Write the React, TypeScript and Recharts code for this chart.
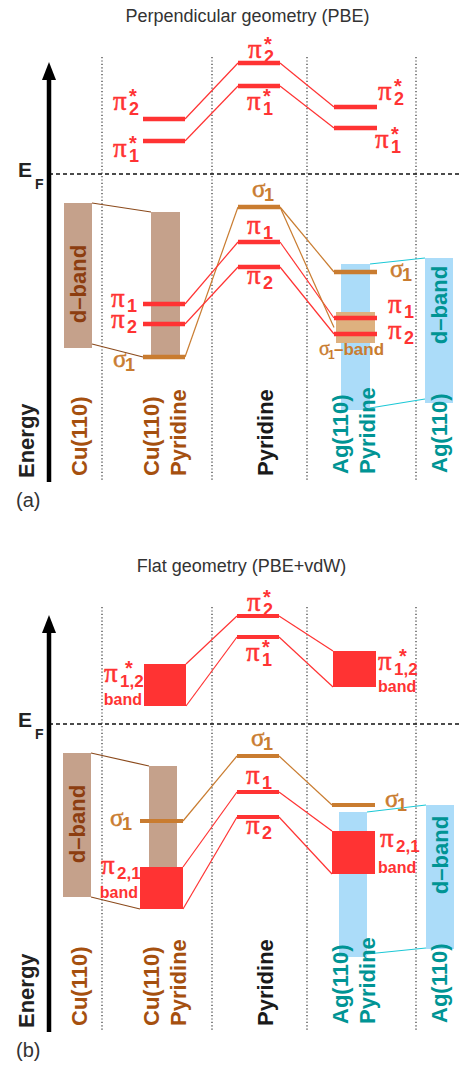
import React from 'react';
import { ComposedChart, XAxis, YAxis, ReferenceArea, ReferenceLine, ReferenceDot } from 'recharts';

// ---------------- data (energies in arbitrary units, E_F = 0) ----------------
// order of molecular levels: π2*, π1*, σ1, π1, π2
const levelNames = ['π2*', 'π1*', 'σ1', 'π1', 'π2'];

// (a) Perpendicular geometry (PBE)
const perpPyridine = [11.1, 8.8, -3.3, -6.8, -9.3];
const perpCuPyridine = [5.5, 3.3, -18.3, -13.0, -15.0];
const perpAgPyridine = [6.7, 4.6, -9.8, -14.4, -16.0];
const perpCuDBand = [-2.9, -17.4];
const perpCuPyDBand = [-3.8, -18.1];
const perpAgPyDBand = [-9.0, -23.6];
const perpAgDBand = [-8.4, -22.9];
const perpAgSigmaBand = [-13.8, -16.9];

// (b) Flat geometry (PBE+vdW)
const flatPyridine = [10.8, 8.7, -3.2, -6.8, -9.3];
const flatCuPiStarBand = [6.0, 1.8];
const flatAgPiStarBand = [7.3, 3.7];
const flatCuSigma1 = [-9.7];
const flatAgSigma1 = [-8.1];
const flatCuPiBand = [-14.3, -18.5];
const flatAgPiBand = [-10.7, -15.0];
const flatCuDBand = [-2.9, -17.3];
const flatCuPyDBand = [-4.2, -18.1];
const flatAgPyDBand = [-8.8, -23.3];
const flatAgDBand = [-8.1, -22.5];

const columnLabels = [['Cu(110)'], ['Cu(110)', 'Pyridine'], ['Pyridine'], ['Ag(110)', 'Pyridine'], ['Ag(110)']];
const panelTitles = ['Perpendicular geometry (PBE)', 'Flat geometry (PBE+vdW)'];
const panelTags = ['(a)', '(b)'];

// ---------------- layout / style ----------------
const W = 461;
const E_DOMAIN: [number, number] = [-30.8, 17.4];
const colX = [79, 165, 265, 354, 439];
const dividers = [102, 212, 307, 416];
const DIV_TOP = 11.7;
const AXIS_X = 49;

const SANS = '"Liberation Sans", Arial, Helvetica, sans-serif';
const SERIF = '"Liberation Serif", "Times New Roman", serif';
const RED = '#ff3333';
const SIGMA = '#c97c30';
const CU_BAND = '#c5a18b';
const SIGMA_BAND = '#deb17f';
const AG_BAND = '#abdcf9';
const CU_TEXT = '#a5500f';
const CU_DARK = '#8c3d10';
const AG_TEXT = '#009494';
const CYAN = '#1cc8d6';
const BROWN_LINE = '#8b4a1c';
const columnColors = [CU_TEXT, CU_TEXT, '#1a1a1a', AG_TEXT, AG_TEXT];
const columnGap = [6, 6, 6, 8, 9];

const seg = (key: string, x1: number, y1: number, x2: number, y2: number, stroke: string, w: number, dash?: string) => (
  <ReferenceLine key={key} segment={[{ x: x1, y: y1 }, { x: x2, y: y2 }]} stroke={stroke} strokeWidth={w}
    strokeDasharray={dash} ifOverflow="visible" />
);
const rect = (key: string, x1: number, x2: number, band: number[], fill: string) => (
  <ReferenceArea key={key} x1={x1} x2={x2} y1={band[1]} y2={band[0]} fill={fill} fillOpacity={1}
    stroke="none" ifOverflow="visible" />
);
const dot = (key: string, x: number, y: number, shape: any) => (
  <ReferenceDot key={key} x={x} y={y} r={0} shape={shape} ifOverflow="visible" />
);

type GreekOpts = {
  sym: 'π' | 'σ'; sub: string; star?: boolean; color: string; dx: number; dy: number;
  subSize?: number; starDx?: number; band?: { dx: number; dy: number; anchor: 'start' | 'end' };
};
const greek = (o: GreekOpts) => (p: any) => {
  const x = p.cx + o.dx;
  const y = p.cy + o.dy;
  const isPi = o.sym === 'π';
  const subX = x + (isPi ? 16 : 12);
  return (
    <g>
      <text x={x} y={y} fontFamily={SERIF} fontSize={isPi ? 27 : 25} fill={o.color} stroke={o.color}
        strokeWidth={0.5}>{o.sym}</text>
      <text x={subX} y={y + (isPi ? 5 : 4)} fontFamily={SANS} fontWeight={700} fontSize={o.subSize ?? 18} fill={o.color}>{o.sub}</text>
      {o.star && (
        <text x={subX + (o.starDx ?? 0)} y={y - 7} fontFamily={SANS} fontWeight={700} fontSize={20} fill={o.color}>*</text>
      )}
      {o.band && (
        <text x={p.cx + o.band.dx} y={p.cy + o.band.dy} textAnchor={o.band.anchor} fontFamily={SANS}
          fontWeight={700} fontSize={16} fill={o.color}>band</text>
      )}
    </g>
  );
};

const vText = (text: string, color: string, dy: number, anchor: 'start' | 'middle', size = 22) => (p: any) => {
  const x = p.cx;
  const y = p.cy + dy;
  return (
    <text x={x} y={y} transform={`rotate(-90 ${x} ${y})`} textAnchor={anchor} dominantBaseline="central"
      fontFamily={SANS} fontWeight={700} fontSize={size} fill={color}>{text}</text>
  );
};

const arrowHead = (p: any) => (
  <polygon points={`${p.cx},${p.cy} ${p.cx - 7},${p.cy + 18} ${p.cx + 7},${p.cy + 18}`} fill="#000" />
);

const efLabel = (p: any) => (
  <g fontFamily={SANS} fontWeight={700} fill="#222">
    <text x={p.cx - 31} y={p.cy + 3} fontSize={21}>E</text>
    <text x={p.cx - 14} y={p.cy + 15} fontSize={14}>F</text>
  </g>
);

const titleShape = (t: string, dx: number) => (p: any) => (
  <text x={p.cx + dx} y={p.cy + 22} textAnchor="middle" fontFamily={SANS} fontSize={18} fill="#333">{t}</text>
);
const tagShape = (t: string) => (p: any) => (
  <text x={p.cx} y={p.cy + 25} fontFamily={SANS} fontSize={20} fill="#333">{t}</text>
);

const ColumnTick = (props: any) => {
  const { x, y, index } = props;
  const lines = columnLabels[index] || [];
  const spacing = 27.5;
  return (
    <g>
      {lines.map((t, i) => {
        const lx = x + (i - (lines.length - 1) / 2) * spacing;
        const ly = y - columnGap[index];
        return (
          <text key={i} x={lx} y={ly} transform={`rotate(-90 ${lx} ${ly})`} textAnchor="start" dominantBaseline="central"
            fontFamily={SANS} fontWeight={700} fontSize={22} fill={columnColors[index]}>{t}</text>
        );
      })}
    </g>
  );
};

const commonFrame = (tag: number, arrowTip: number) => [
  ...dividers.map((x) => seg(`div${x}`, x, DIV_TOP, x, E_DOMAIN[0], '#333', 1.2, '1.2 2.2')),
  seg('ef', AXIS_X, 0, W, 0, '#111', 1.3, '4 3'),
  seg('shaft', AXIS_X, E_DOMAIN[0], AXIS_X, arrowTip - 1.5, '#000', 4.5),
  dot('arrowhead', AXIS_X, arrowTip, arrowHead),
  dot('eflabel', AXIS_X, 0, efLabel),
  dot('energy', 26.5, E_DOMAIN[0], vText('Energy', '#222', -4, 'start')),
  dot('title', W / 2, E_DOMAIN[1], titleShape(panelTitles[tag], tag === 0 ? 17 : 11)),
  dot('tag', 16, E_DOMAIN[0], tagShape(panelTags[tag])),
];

const Panel = ({ height, axisHeight, children }: { height: number; axisHeight: number; children: any }) => (
  <ComposedChart width={W} height={height} data={[]} margin={{ top: 0, right: 0, bottom: 0, left: 0 }}>
    <XAxis type="number" dataKey="x" domain={[0, W]} ticks={colX} interval={0} allowDataOverflow height={axisHeight}
      axisLine={false} tickLine={false} tickSize={0} tickMargin={0} tick={<ColumnTick />} />
    <YAxis type="number" domain={E_DOMAIN} allowDataOverflow hide />
    {children}
  </ComposedChart>
);

function PerpPanel() {
  const cuL = [143, 185];
  const pyL = [238, 280];
  const agL = [334, 377];
  const sigMid = (perpAgSigmaBand[0] + perpAgSigmaBand[1]) / 2;
  const els: any[] = [
    ...commonFrame(0, 11.2),
    rect('cuD', 64, 92, perpCuDBand, CU_BAND),
    rect('cuPyD', 151, 180, perpCuPyDBand, CU_BAND),
    rect('agPyD', 341, 370, perpAgPyDBand, AG_BAND),
    rect('agD', 425, 453, perpAgDBand, AG_BAND),
    rect('sigBand', 336, 375, perpAgSigmaBand, SIGMA_BAND),
    seg('cuTop', 92, perpCuDBand[0], 151, perpCuPyDBand[0], BROWN_LINE, 1.2),
    seg('cuBot', 92, perpCuDBand[1] + 0.4, cuL[0], perpCuPyridine[2], BROWN_LINE, 1.2),
    seg('agTop', 370, perpAgPyDBand[0], 425, perpAgDBand[0], CYAN, 1.2),
    seg('agBot', 370, perpAgPyDBand[1] + 0.2, 425, perpAgDBand[1] + 0.4, CYAN, 1.2),
  ];
  levelNames.forEach((_, i) => {
    const c = i === 2 ? SIGMA : RED;
    els.push(seg(`cl${i}`, cuL[1], perpCuPyridine[i], pyL[0], perpPyridine[i], c, 1.2));
    els.push(seg(`cr${i}`, pyL[1], perpPyridine[i], agL[0], perpAgPyridine[i], c, 1.2));
  });
  els.push(seg('sigToBand', pyL[1], perpPyridine[2], agL[0], sigMid, SIGMA, 1.2));
  levelNames.forEach((_, i) => {
    const c = i === 2 ? SIGMA : RED;
    els.push(seg(`lc${i}`, cuL[0], perpCuPyridine[i], cuL[1], perpCuPyridine[i], c, 4.5));
    els.push(seg(`lp${i}`, pyL[0], perpPyridine[i], pyL[1], perpPyridine[i], c, 4.5));
    els.push(seg(`la${i}`, agL[0], perpAgPyridine[i], agL[1], perpAgPyridine[i], c, 4.5));
  });
  // labels
  els.push(
    dot('tCu2s', cuL[0], perpCuPyridine[0], greek({ sym: 'π', sub: '2', star: true, color: RED, dx: -30, dy: -9 })),
    dot('tCu1s', cuL[0], perpCuPyridine[1], greek({ sym: 'π', sub: '1', star: true, color: RED, dx: -30, dy: 16 })),
    dot('tCuS', cuL[0], perpCuPyridine[2], greek({ sym: 'σ', sub: '1', color: SIGMA, dx: -30, dy: 10 })),
    dot('tCu1', cuL[0], perpCuPyridine[3], greek({ sym: 'π', sub: '1', color: RED, dx: -32, dy: 3 })),
    dot('tCu2', cuL[0], perpCuPyridine[4], greek({ sym: 'π', sub: '2', color: RED, dx: -32, dy: 4 })),
    dot('tPy2s', pyL[0], perpPyridine[0], greek({ sym: 'π', sub: '2', star: true, color: RED, dx: 10, dy: -5 })),
    dot('tPy1s', pyL[0], perpPyridine[1], greek({ sym: 'π', sub: '1', star: true, color: RED, dx: 9, dy: 24 })),
    dot('tPyS', pyL[0], perpPyridine[2], greek({ sym: 'σ', sub: '1', color: SIGMA, dx: 14, dy: -10 })),
    dot('tPy1', pyL[0], perpPyridine[3], greek({ sym: 'π', sub: '1', color: RED, dx: 9, dy: -8 })),
    dot('tPy2', pyL[0], perpPyridine[4], greek({ sym: 'π', sub: '2', color: RED, dx: 9, dy: 17 })),
    dot('tAg2s', agL[1], perpAgPyridine[0], greek({ sym: 'π', sub: '2', star: true, color: RED, dx: 1, dy: -7 })),
    dot('tAg1s', agL[1], perpAgPyridine[1], greek({ sym: 'π', sub: '1', star: true, color: RED, dx: -2, dy: 20 })),
    dot('tAgS', agL[1], perpAgPyridine[2], greek({ sym: 'σ', sub: '1', color: SIGMA, dx: 13, dy: 5 })),
    dot('tAg1', agL[1], perpAgPyridine[3], greek({ sym: 'π', sub: '1', color: RED, dx: 11, dy: -5 })),
    dot('tAg2', agL[1], perpAgPyridine[4], greek({ sym: 'π', sub: '2', color: RED, dx: 11, dy: 5 })),
    dot('tSigBand', 336, perpAgSigmaBand[1], (p: any) => (
      <g fill={SIGMA}>
        <text x={p.cx - 17} y={p.cy + 12} fontFamily={SERIF} fontSize={20} stroke={SIGMA} strokeWidth={0.4}>σ</text>
        <text x={p.cx - 8} y={p.cy + 16} fontFamily={SANS} fontWeight={700} fontSize={12}>1</text>
        <text x={p.cx - 2} y={p.cy + 12} fontFamily={SANS} fontWeight={700} fontSize={17}>–band</text>
      </g>
    )),
    dot('tCuD', 78, perpCuDBand[0], vText('d–band', CU_DARK, 81, 'middle')),
    dot('tAgD', 439, perpAgDBand[0], vText('d–band', AG_TEXT, 47, 'middle')),
  );
  return <Panel height={550} axisHeight={68}>{els}</Panel>;
}

function FlatPanel() {
  const cuL = [140, 183];
  const cuS = [144, 186];
  const pyL = [237, 279];
  const agL = [332, 375];
  const agS = [333, 376];
  const els: any[] = [
    ...commonFrame(1, 10.9),
    rect('cuD', 63, 91, flatCuDBand, CU_BAND),
    rect('cuPyD', 149, 177, flatCuPyDBand, CU_BAND),
    rect('agPyD', 339, 367, flatAgPyDBand, AG_BAND),
    rect('agD', 426, 454, flatAgDBand, AG_BAND),
    rect('cuPiS', cuS[0], cuS[1], flatCuPiStarBand, RED),
    rect('agPiS', agS[0], agS[1], flatAgPiStarBand, RED),
    rect('cuPi', cuL[0], cuL[1], flatCuPiBand, RED),
    rect('agPi', agL[0], agL[1], flatAgPiBand, RED),
    seg('cuTop', 91, flatCuDBand[0], 149, flatCuPyDBand[0], BROWN_LINE, 1.2),
    seg('cuBot', 91, flatCuDBand[1], cuL[0], flatCuPiBand[1], BROWN_LINE, 1.2),
    seg('agTop', 367, flatAgPyDBand[0], 426, flatAgDBand[0], CYAN, 1.2),
    seg('agBot', 367, flatAgPyDBand[1] + 0.3, 426, flatAgDBand[1] + 0.1, CYAN, 1.2),
    // π* connections
    seg('c0l', cuS[1], flatCuPiStarBand[0], pyL[0], flatPyridine[0], RED, 1.2),
    seg('c0r', pyL[1], flatPyridine[0], agS[0], flatAgPiStarBand[0], RED, 1.2),
    seg('c1l', cuS[1], flatCuPiStarBand[1], pyL[0], flatPyridine[1], RED, 1.2),
    seg('c1r', pyL[1], flatPyridine[1], agS[0], flatAgPiStarBand[1], RED, 1.2),
    // σ1
    seg('c2l', cuL[1], flatCuSigma1[0], pyL[0], flatPyridine[2], SIGMA, 1.2),
    seg('c2r', pyL[1], flatPyridine[2], agL[0], flatAgSigma1[0], SIGMA, 1.2),
    // π1, π2
    seg('c3l', cuL[1], flatCuPiBand[0], pyL[0], flatPyridine[3], RED, 1.2),
    seg('c3r', pyL[1], flatPyridine[3], agL[0], flatAgPiBand[0], RED, 1.2),
    seg('c4l', cuL[1], flatCuPiBand[1], pyL[0], flatPyridine[4], RED, 1.2),
    seg('c4r', pyL[1], flatPyridine[4], agL[0], flatAgPiBand[1], RED, 1.2),
  ];
  levelNames.forEach((_, i) => {
    els.push(seg(`lp${i}`, pyL[0], flatPyridine[i], pyL[1], flatPyridine[i], i === 2 ? SIGMA : RED, 4));
  });
  els.push(
    seg('lcS', cuL[0], flatCuSigma1[0], cuL[1], flatCuSigma1[0], SIGMA, 4),
    seg('laS', agL[0], flatAgSigma1[0], agL[1], flatAgSigma1[0], SIGMA, 4),
    dot('tCuPS', cuS[0], flatCuPiStarBand[0], greek({ sym: 'π', sub: '1,2', subSize: 17, star: true, starDx: 5, color: RED, dx: -40, dy: 18, band: { dx: -2, dy: 41, anchor: 'end' } })),
    dot('tAgPS', agS[1], flatAgPiStarBand[0], greek({ sym: 'π', sub: '1,2', subSize: 17, star: true, starDx: 5, color: RED, dx: 2, dy: 19, band: { dx: 2, dy: 41, anchor: 'start' } })),
    dot('tPy2s', pyL[0], flatPyridine[0], greek({ sym: 'π', sub: '2', star: true, color: RED, dx: 10, dy: -5 })),
    dot('tPy1s', pyL[0], flatPyridine[1], greek({ sym: 'π', sub: '1', star: true, color: RED, dx: 9, dy: 24 })),
    dot('tPyS', pyL[0], flatPyridine[2], greek({ sym: 'σ', sub: '1', color: SIGMA, dx: 14, dy: -10 })),
    dot('tPy1', pyL[0], flatPyridine[3], greek({ sym: 'π', sub: '1', color: RED, dx: 9, dy: -8 })),
    dot('tPy2', pyL[0], flatPyridine[4], greek({ sym: 'π', sub: '2', color: RED, dx: 9, dy: 17 })),
    dot('tCuS', cuL[0], flatCuSigma1[0], greek({ sym: 'σ', sub: '1', color: SIGMA, dx: -30, dy: 5 })),
    dot('tCuPi', cuL[0], flatCuPiBand[0], greek({ sym: 'π', sub: '2,1', subSize: 17, color: RED, dx: -39, dy: 7, band: { dx: -2, dy: 31, anchor: 'end' } })),
    dot('tAgS', agL[1], flatAgSigma1[0], greek({ sym: 'σ', sub: '1', color: SIGMA, dx: 10, dy: 2 })),
    dot('tAgPi', agL[1], flatAgPiBand[0], greek({ sym: 'π', sub: '2,1', subSize: 17, color: RED, dx: 5, dy: 16, band: { dx: 3, dy: 42, anchor: 'start' } })),
    dot('tCuD', 77, flatCuDBand[0], vText('d–band', CU_DARK, 71, 'middle')),
    dot('tAgD', 440, flatAgDBand[0], vText('d–band', AG_TEXT, 50, 'middle')),
  );
  return <Panel height={518} axisHeight={36}>{els}</Panel>;
}

export default function App() {
  return (
    <div style={{ position: 'absolute', left: 0, top: 0, width: W, height: 1068, background: '#fff' }}>
      <PerpPanel />
      <FlatPanel />
    </div>
  );
}
